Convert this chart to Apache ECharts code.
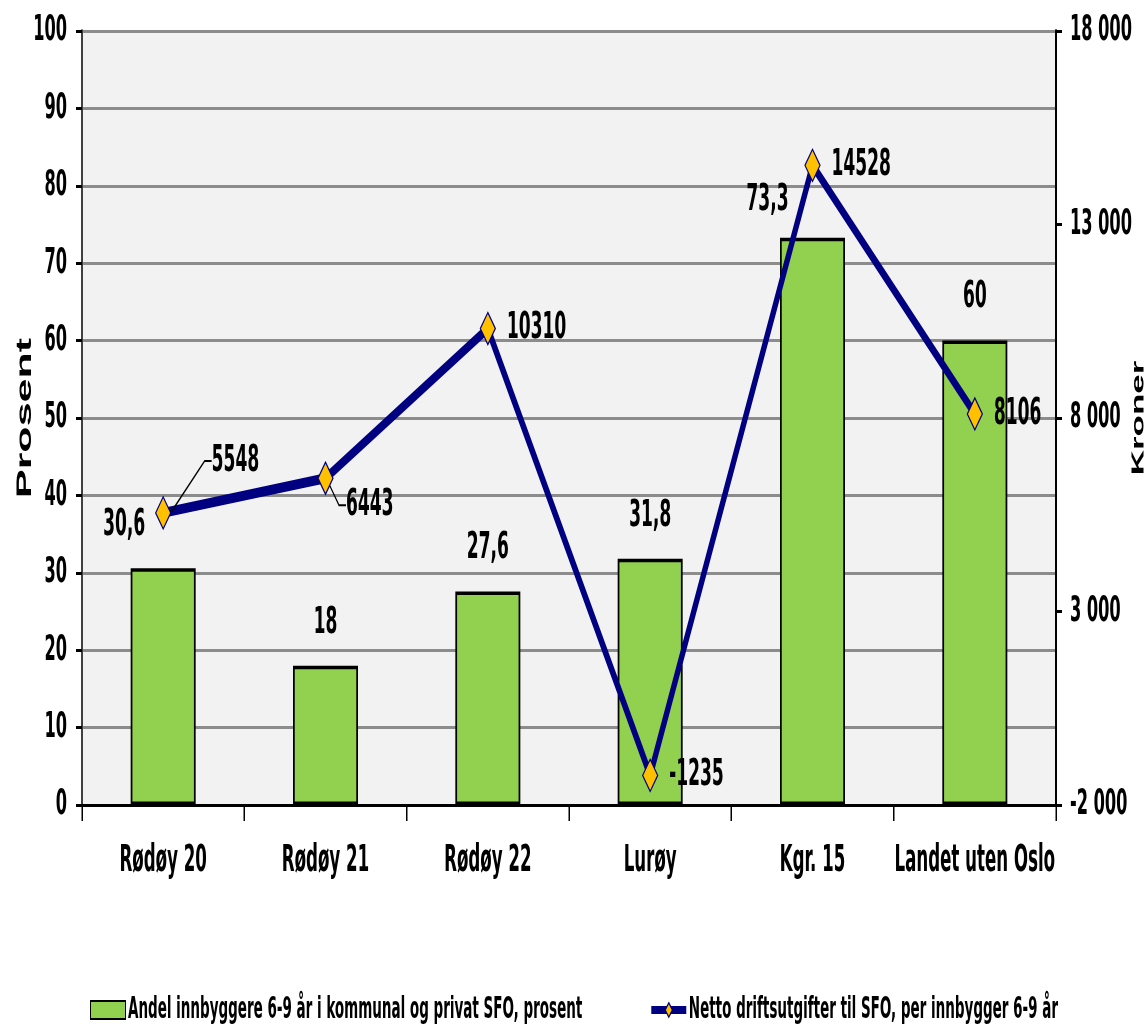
<!DOCTYPE html>
<html>
<head>
<meta charset="utf-8">
<script src="https://cdn.jsdelivr.net/npm/echarts@6/dist/echarts.min.js"></script>
<style>
    html, body { margin: 0; padding: 0; background: #fff; overflow: hidden; width: 1148px; height: 1033px; }
    /* the original picture is squeezed sideways, so draw wide and squeeze it */
    #chart { width: 2296px; height: 1033px; transform: scaleX(0.5); transform-origin: 0 0; }
</style>
</head>
<body>
<div id="chart"></div>
<script>
const categories = ['Rødøy 20', 'Rødøy 21', 'Rødøy 22', 'Lurøy', 'Kgr. 15', 'Landet uten Oslo'];
const shareValues = [30.6, 18, 27.6, 31.8, 73.3, 60];
const costValues = [5548, 6443, 10310, -1235, 14528, 8106];
const leftTickLabels = ['0', '10', '20', '30', '40', '50', '60', '70', '80', '90', '100'];
const rightTickLabels = ['-2 000', '3 000', '8 000', '13 000', '18 000'];
const seriesNames = [
    'Andel innbyggere 6-9 år i kommunal og privat SFO, prosent',
    'Netto driftsutgifter til SFO, per innbygger 6-9 år'
];

const FONT = "'Liberation Sans Narrow', 'Arial Narrow', 'DejaVu Sans Condensed', 'Liberation Sans', sans-serif";
const BOLD_FONT = "'Liberation Sans', Arial, sans-serif";

// some bar labels sit to the left, as in the original
const barLabelOffsets = { 0: [-78, 0], 4: [-90, 5] };
// the first two line labels are pulled away with a leader line
const lineLabelMoves = { 0: { dx: 59, dy: -52 }, 1: { dx: 3, dy: 27 } };

const chart = echarts.init(document.getElementById('chart'));

const barData = shareValues.map(function (v, i) {
    const item = { value: v };
    if (barLabelOffsets[i]) item.label = { offset: barLabelOffsets[i] };
    return item;
});

const lineData = costValues.map(function (v, i) {
    const item = { value: v };
    if (lineLabelMoves[i]) item.labelLine = { show: true };
    return item;
});

const option = {
    animation: false,
    backgroundColor: '#fff',
    grid: {
        left: 164, right: 184, top: 31, bottom: 228,
        show: true, backgroundColor: '#F2F2F2', borderWidth: 0,
        outerBoundsMode: 'none'
    },
    legend: {
        left: 'center',
        top: 990,
        width: 2296,
        itemGap: 134,
        itemWidth: 70,
        itemHeight: 18,
        textStyle: { fontFamily: FONT, fontWeight: 'bold', fontSize: 30, color: '#000' },
        data: [
            { name: seriesNames[0], icon: 'rect' },
            { name: seriesNames[1], lineStyle: { width: 8 } }
        ]
    },
    xAxis: {
        type: 'category',
        data: categories,
        axisLine: { lineStyle: { color: '#000', width: 3 } },
        axisTick: { show: true, length: 16, lineStyle: { color: '#000', width: 3 } },
        axisLabel: { interval: 0, fontFamily: FONT, fontWeight: 'bold', fontSize: 37, color: '#000', margin: 38 }
    },
    yAxis: [
        {
            type: 'value',
            min: 0, max: 100, interval: 10,
            name: 'Prosent',
            nameLocation: 'middle',
            nameRotate: 90,
            nameGap: 92,
            nameMoveOverlap: false,
            nameTextStyle: { fontFamily: BOLD_FONT, fontWeight: 'bold', fontSize: 43, color: '#000' },
            axisLine: { show: true, lineStyle: { color: '#404040', width: 4 } },
            axisTick: { show: true, length: 12, lineStyle: { color: '#000', width: 3 } },
            axisLabel: {
                fontFamily: FONT, fontWeight: 'bold', fontSize: 36, color: '#000', margin: 30,
                formatter: function (v, i) { return leftTickLabels[i]; }
            },
            splitLine: { lineStyle: { color: '#8c8c8c', width: 3 } }
        },
        {
            type: 'value',
            position: 'right',
            min: -2000, max: 18000, interval: 5000,
            name: 'Kroner',
            nameLocation: 'middle',
            nameRotate: 90,
            nameGap: 148,
            nameMoveOverlap: false,
            nameTextStyle: { fontFamily: BOLD_FONT, fontWeight: 'bold', fontSize: 35, color: '#000' },
            axisLine: { show: true, lineStyle: { color: '#000', width: 4 } },
            axisTick: { show: true, length: 12, lineStyle: { color: '#000', width: 3 } },
            axisLabel: {
                fontFamily: FONT, fontWeight: 'bold', fontSize: 36, color: '#000', margin: 28,
                formatter: function (v, i) { return rightTickLabels[i]; }
            },
            splitLine: { show: false }
        }
    ],
    series: [
        {
            name: seriesNames[0],
            type: 'bar',
            barWidth: 130,
            data: barData,
            itemStyle: { color: '#92D050', borderColor: '#000', borderWidth: 3.5 },
            label: {
                show: true,
                position: 'top',
                distance: 24,
                fontFamily: FONT, fontWeight: 'bold', fontSize: 38, color: '#000',
                formatter: function (p) { return String(p.value).replace('.', ','); }
            }
        },
        {
            name: seriesNames[1],
            type: 'line',
            yAxisIndex: 1,
            data: lineData,
            z: 5,
            symbol: 'diamond',
            symbolSize: [30, 32],
            itemStyle: { color: '#FFC000', borderColor: '#000080', borderWidth: 2 },
            lineStyle: { color: '#000080', width: 10 },
            label: {
                show: true,
                position: 'right',
                distance: 22,
                fontFamily: FONT, fontWeight: 'bold', fontSize: 38, color: '#000'
            },
            labelLine: { show: false, length2: 14, lineStyle: { color: '#000', width: 2 } },
            labelLayout: function (params) {
                const m = lineLabelMoves[params.dataIndex];
                return m ? { dx: m.dx, dy: m.dy } : {};
            }
        }
    ]
};

chart.setOption(option);
</script>
</body>
</html>
